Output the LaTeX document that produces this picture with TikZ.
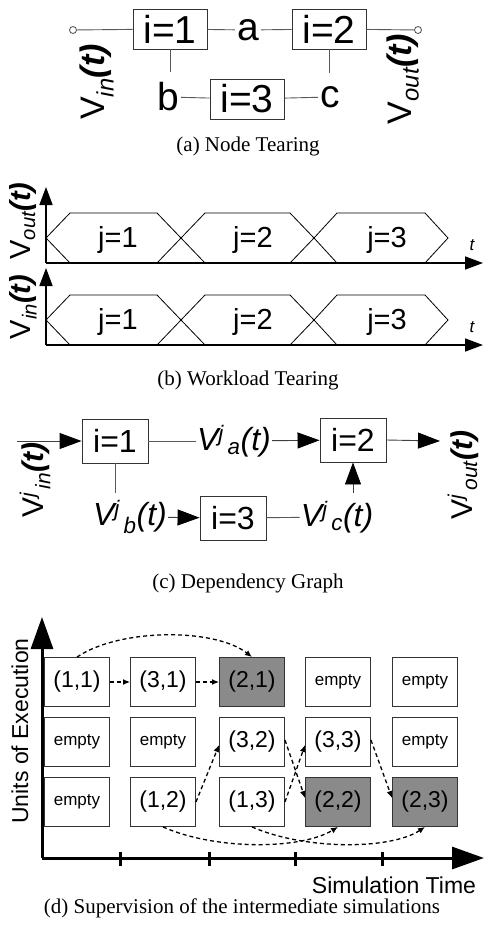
\documentclass[tikz,border=0pt]{standalone}
\usepackage{fontspec}
\setmainfont{Liberation Serif}
\setsansfont{Liberation Sans}
\usetikzlibrary{arrows.meta}

\tikzset{
  wire/.style={draw=black!65, line width=0.9pt},
  blk/.style={draw=black!80, line width=0.9pt, inner sep=0pt, minimum width=74pt, minimum height=40pt},
  port/.style={circle, draw=black!70, fill=white, line width=0.8pt, minimum size=7pt, inner sep=0pt},
  subcaption/.style={inner sep=0pt, font=\rmfamily\fontsize{21}{21}\selectfont},
  axisb/.style={line width=1.6pt, -{Triangle[length=18pt,width=13pt]}},
  axisd/.style={line width=3pt, -{Triangle[length=32pt,width=22pt]}},
  dep/.style={dash pattern=on 4pt off 3pt, line width=1.3pt, -{Latex[length=7pt,width=6pt]}},
  cell/.style={draw=black!80, line width=0.9pt, inner sep=0pt, minimum width=65pt, minimum height=49pt,
    font=\sffamily\fontsize{23}{23}\selectfont},
  emptycell/.style={cell, font=\sffamily\fontsize{17}{17}\selectfont},
  donecell/.style={cell, fill=black!46},
}

\begin{document}
\begin{tikzpicture}[x=1pt, y=-1pt]
  \useasboundingbox (0,0) rectangle (484,929);

  % (a) tearing at the nodes
  \begin{scope}[every node/.append style={font=\sffamily\fontsize{39}{39}\selectfont}]
    \node[port] (pin) at (73,30) {};
    \node[port] (pout) at (418,30) {};
    \node[blk] (a1) at (170,29) {i=1};
    \node[blk] (a2) at (329,29) {i=2};
    \node[blk] (a3) at (247,99) {i=3};
    \node[inner sep=2pt] (na) at (248,30) {a};
    \node[inner sep=2pt] (nb) at (168,97) {b};
    \node[inner sep=2pt] (nc) at (330,97) {c};
    \coordinate (sb) at (170,72);
    \coordinate (sc) at (329,73);
  \end{scope}
  \begin{scope}[every node/.append style={font=\sffamily\fontsize{34}{34}\selectfont}]
    \node[rotate=90, inner sep=0pt] (avin) at (97,82) {V\textsubscript{\itshape in}\textbf{\itshape (t)}};
    \node[rotate=90, inner sep=0pt] (avout) at (403,79) {V\textsubscript{\itshape out}\textbf{\itshape (t)}};
  \end{scope}
  \draw[wire] (pin) -- (a1);
  \draw[wire] (a1) -- (na);
  \draw[wire] (na) -- (a2);
  \draw[wire] (a2) -- (pout);
  \draw[wire] (a1.south) -- (sb);
  \draw[wire] (a2.south) -- (sc);
  \draw[wire] (nb) -- (a3);
  \draw[wire] (a3) -- (nc);
  \node[subcaption] (capa) at (248,146) {(a) Node Tearing};

  % (b) tearing of the workload in time
  \draw[axisb] (46,263) -- (46,187);
  \draw[axisb] (46,263) -- (483,263);
  \draw[axisb] (46,345) -- (46,268);
  \draw[axisb] (46,345) -- (483,345);
  % upper windows
  \draw[line width=0.8pt] (46,238) -- (70,213) -- (157,213) -- (181,238) -- (157,263) -- (70,263) -- cycle;
  \draw[line width=0.8pt] (181,238) -- (205,213) -- (290,213) -- (314,238) -- (290,263) -- (205,263) -- cycle;
  \draw[line width=0.8pt] (314,238) -- (337,213) -- (425,213) -- (448,238) -- (425,263) -- (337,263) -- cycle;
  % lower windows
  \draw[line width=0.8pt] (46,320) -- (70,295) -- (157,295) -- (181,320) -- (157,345) -- (70,345) -- cycle;
  \draw[line width=0.8pt] (181,320) -- (205,295) -- (290,295) -- (314,320) -- (290,345) -- (205,345) -- cycle;
  \draw[line width=0.8pt] (314,320) -- (337,295) -- (425,295) -- (448,320) -- (425,345) -- (337,345) -- cycle;
  \begin{scope}[every node/.append style={font=\sffamily\fontsize{29}{29}\selectfont}]
    \node (wo1) at (118,240) {j=1};
    \node (wo2) at (253,240) {j=2};
    \node (wo3) at (387,240) {j=3};
    \node (wi1) at (118,322) {j=1};
    \node (wi2) at (253,322) {j=2};
    \node (wi3) at (387,322) {j=3};
    \node[rotate=90, inner sep=0pt] (bvout) at (23,221) {V\textsubscript{\itshape out}\textbf{\itshape (t)}};
    \node[rotate=90, inner sep=0pt] (bvin) at (23,307) {V\textsubscript{\itshape in}\textbf{\itshape (t)}};
  \end{scope}
  \node[font=\sffamily\itshape\fontsize{17}{17}\selectfont] (tout) at (472,245) {t};
  \node[font=\sffamily\itshape\fontsize{17}{17}\selectfont] (tin) at (472,327) {t};
  \node[subcaption] (capb) at (248,380) {(b) Workload Tearing};

  % (c) dependencies between the parts
  \begin{scope}[every node/.append style={font=\sffamily\fontsize{32}{32}\selectfont},
      flow/.style={draw=black!75, line width=0.9pt, -{Triangle[length=22pt,width=16pt,color=black]}},
      vlbl/.style={inner sep=1pt, font=\sffamily\itshape\fontsize{32}{32}\selectfont}]
    \node[blk, minimum width=66pt, minimum height=44pt] (c1) at (115,441) {i=1};
    \node[blk, minimum width=66pt, minimum height=44pt] (c2) at (353,440) {i=2};
    \node[blk, minimum width=66pt, minimum height=44pt] (c3) at (233,518) {i=3};
    \node[vlbl] (va) at (234,441) {V\textsuperscript{j\,}\textsubscript{a}(t)};
    \node[vlbl] (vb) at (130,517) {V\textsuperscript{j\,}\textsubscript{b}(t)};
    \node[vlbl] (vc) at (337,517) {V\textsuperscript{j\,}\textsubscript{c}(t)};
    \node[rotate=90, inner sep=0pt, font=\sffamily\fontsize{30}{30}\selectfont] (cvin) at (35,480)
      {V\textsuperscript{\itshape j\,}\textsubscript{\itshape in}\textbf{\itshape (t)}};
    \node[rotate=90, inner sep=0pt, font=\sffamily\fontsize{30}{30}\selectfont] (cvout) at (463,475)
      {V\textsuperscript{\itshape j\,}\textsubscript{\itshape out}\textbf{\itshape (t)}};
    \coordinate (cin) at (17,441);
    \coordinate (cout) at (440,441);
    \coordinate (cb) at (115,493);
    \coordinate (cc) at (353,493);
    \draw[flow] (cin) -- (c1);
    \draw[wire] (c1) -- (va);
    \draw[flow] (va) -- (c2);
    \draw[flow] (c2.east) -- (cout);
    \draw[wire] (c1.south) -- (cb);
    \draw[flow] (vb) -- (c3);
    \draw[wire] (c3) -- (vc);
    \draw[flow] (cc) -- (c2.south);
  \end{scope}
  \node[subcaption] (capc) at (248,583) {(c) Dependency Graph};

  % (d) supervision grid
  \draw[axisd] (42,858) -- (42,617);
  \draw[axisd] (42,858) -- (484,858);
  \draw[line width=3pt] (120,852) -- (120,866);
  \draw[line width=3pt] (209,852) -- (209,866);
  \draw[line width=3pt] (295,852) -- (295,866);
  \draw[line width=3pt] (382,852) -- (382,866);
  \node[rotate=90, font=\sffamily\fontsize{23}{23}\selectfont] (units) at (20,731) {Units of Execution};
  \node[font=\sffamily\fontsize{23}{23}\selectfont] (simt) at (394,885) {Simulation Time};
  % Row 1 (top)
  \node[cell] (r1c1) at (77,682) {(1,1)};
  \node[cell] (r1c2) at (163,682) {(3,1)};
  \node[donecell] (r1c3) at (252,682) {(2,1)};
  \node[emptycell] (r1c4) at (338,682) {empty};
  \node[emptycell] (r1c5) at (425,682) {empty};
  % Row 2
  \node[emptycell] (r2c1) at (77,742) {empty};
  \node[emptycell] (r2c2) at (163,742) {empty};
  \node[cell] (r2c3) at (252,742) {(3,2)};
  \node[cell] (r2c4) at (338,742) {(3,3)};
  \node[emptycell] (r2c5) at (425,742) {empty};
  % Row 3 (bottom)
  \node[emptycell] (r3c1) at (77,802) {empty};
  \node[cell] (r3c2) at (163,802) {(1,2)};
  \node[cell] (r3c3) at (252,802) {(1,3)};
  \node[donecell] (r3c4) at (338,802) {(2,2)};
  \node[donecell] (r3c5) at (425,802) {(2,3)};
  % dependencies
  \draw[dep] (r1c1) -- (r1c2);
  \draw[dep] (r1c2) -- (r1c3);
  \draw[dep] (r1c1.north) .. controls (120,628) and (215,628) .. (r1c3.north);
  \draw[dep] (r3c2.east) -- ([yshift=-3pt]r2c3.west);
  \draw[dep] (r3c3.east) -- ([yshift=-3pt]r2c4.west);
  \draw[dep] ([yshift=2pt]r2c3.east) -- ([yshift=4pt]r3c4.west);
  \draw[dep] ([yshift=2pt]r2c4.east) -- ([yshift=4pt]r3c5.west);
  \draw[dep] (r3c2.south) .. controls (215,850) and (300,850) .. (r3c4.south);
  \draw[dep] (r3c3.south) .. controls (305,850) and (390,850) .. (r3c5.south);
  \node[subcaption] (capd) at (242,908) {(d) Supervision of the intermediate simulations};
\end{tikzpicture}
\end{document}
